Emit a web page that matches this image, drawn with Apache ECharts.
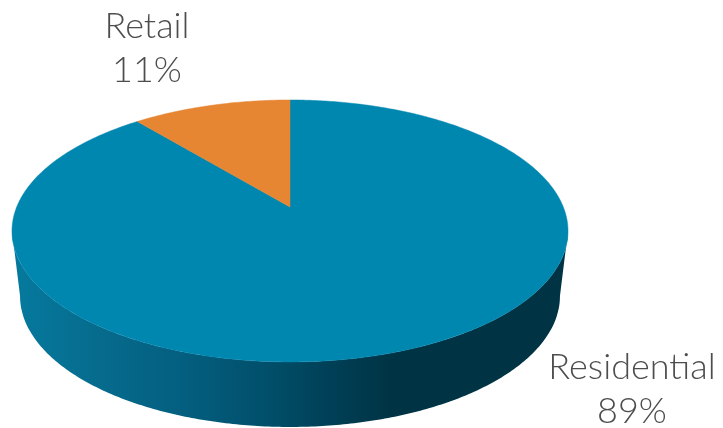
<!DOCTYPE html>
<html>
<head>
<meta charset="utf-8">
<style>html,body{margin:0;padding:0;background:#fff}#chart{width:723px;height:428px}</style>
<script src="https://cdn.jsdelivr.net/npm/echarts@6/dist/echarts.min.js"></script>
</head>
<body>
<div id="chart"></div>
<script>
// Share of floor space by use, in percent, clockwise from twelve o'clock.
const categories = ['Residential', 'Retail'];
const shares = [89, 11];
const faceColors = ['#0087b0', '#e68532'];
const labelAnchors = [[632, 389], [147, 48]];

// Tilted-disc projection: the top face is a circle seen in perspective,
// so its centre sits above the middle of the visible ellipse.
const perspective = 0.183;
const topFace = { cx: 290, cy: 207, halfW: 273.3, halfH: 126.6 };
const baseFace = { cx: 290, cy: 272, halfW: 265.4, halfH: 126.6 };
const wallGradient = {
  type: 'linear', global: true, x: 12, y: 0, x2: 568, y2: 0,
  colorStops: [
    { offset: 0, color: '#057a9e' },
    { offset: 0.16, color: '#066b8d' },
    { offset: 0.3, color: '#045f80' },
    { offset: 0.45, color: '#01506c' },
    { offset: 0.58, color: '#003f55' },
    { offset: 0.68, color: '#003445' },
    { offset: 1, color: '#003344' }
  ]
};

function project(face, angle) {
  const u = Math.sin(angle), v = Math.cos(angle), d = 1 + perspective * v;
  return [face.cx + face.halfW * u / d, face.cy - face.halfH * v / d];
}
function arc(face, from, to) {
  const steps = Math.max(2, Math.ceil(Math.abs(to - from) * 90));
  const pts = [];
  for (let i = 0; i <= steps; i++) pts.push(project(face, from + (to - from) * i / steps));
  return pts;
}

const total = shares.reduce((a, b) => a + b, 0);
// The rim is visible only on the near side of the widest points of the ellipse.
const rimStart = Math.acos(-perspective);
const rimEnd = 2 * Math.PI - rimStart;

function renderSlice(params, api) {
  const i = params.dataIndex;
  const before = shares.slice(0, i).reduce((a, b) => a + b, 0);
  const start = before / total * 2 * Math.PI;
  const end = (before + api.value(0)) / total * 2 * Math.PI;
  const children = [];
  const wallFrom = Math.max(start, rimStart), wallTo = Math.min(end, rimEnd);
  if (wallTo > wallFrom) {
    children.push({
      type: 'polygon',
      shape: { points: arc(topFace, wallFrom, wallTo).concat(arc(baseFace, wallTo, wallFrom)) },
      style: { fill: wallGradient }
    });
  }
  children.push({
    type: 'polygon',
    shape: { points: [[topFace.cx, topFace.cy]].concat(arc(topFace, start, end)) },
    style: { fill: faceColors[i], stroke: faceColors[i], lineWidth: 0.5 }
  });
  children.push({
    type: 'text',
    style: {
      x: labelAnchors[i][0], y: labelAnchors[i][1],
      text: categories[i] + '\n' + api.value(0) + '%',
      align: 'center', verticalAlign: 'middle',
      font: '300 36px Lato', lineHeight: 44, fill: '#4d4d4d'
    }
  });
  return { type: 'group', children };
}

const chart = echarts.init(document.getElementById('chart'), null, { renderer: 'canvas' });
chart.setOption({
  animation: false,
  series: [{
    type: 'custom',
    coordinateSystem: 'none',
    renderItem: renderSlice,
    data: shares.map((v, i) => ({ name: categories[i], value: [v] })),
    silent: true
  }]
});
</script>
</body>
</html>
